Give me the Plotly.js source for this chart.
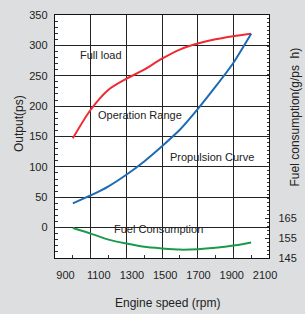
<!DOCTYPE html>
<html>
<head>
<meta charset="utf-8">
<script src="https://cdn.plot.ly/plotly-3.0.1.min.js"></script>
<style>html,body{margin:0;padding:0;background:#dddee0;}#chart{width:305px;height:314px;}</style>
</head>
<body>
<div id="chart"></div>
<script>
// Engine speed (rpm)
var rpm = [1000, 1100, 1200, 1300, 1400, 1500, 1600, 1700, 1800, 1900, 2000];
// Output (ps)
var fullLoad = [147, 194, 227, 245, 260, 278, 293, 303, 310, 315, 319];
var propulsion = [40, 53, 68, 87, 109, 134, 161, 195, 232, 271, 319];
// Fuel consumption (g/ps h)
var fuel = [160, 157.2, 154.2, 152.2, 150.6, 149.8, 149.2, 149.4, 150.1, 151.2, 152.8];
// Tick labels
var xTicks = [900, 1100, 1300, 1500, 1700, 1900, 2100];
var yTicks = [0, 50, 100, 150, 200, 250, 300, 350];
var fuelTicks = [145, 155, 165];

var F = 'Liberation Sans, Arial, sans-serif';
var traces = [
  {x: rpm, y: fullLoad, mode: 'lines', line: {color: '#ee2a35', width: 2, shape: 'spline', smoothing: 0.8}, showlegend: false, hoverinfo: 'skip'},
  {x: rpm, y: propulsion, mode: 'lines', line: {color: '#1d6bb4', width: 2, shape: 'spline', smoothing: 0.6}, showlegend: false, hoverinfo: 'skip'},
  {x: rpm, y: fuel, yaxis: 'y2', mode: 'lines', line: {color: '#1c9a4c', width: 2, shape: 'spline', smoothing: 0.6}, showlegend: false, hoverinfo: 'skip'},
  {x: [null], y: [null], xaxis: 'x2', yaxis: 'y', mode: 'markers', showlegend: false, hoverinfo: 'skip'}
];

function ann(text, x, y, xref, yref, size, angle) {
  return {text: text, x: x, y: y, xref: xref, yref: yref, xanchor: 'center', yanchor: 'middle',
          textangle: angle || 0, showarrow: false, font: {family: F, size: size, color: '#222'}};
}

var layout = {
  width: 305, height: 314,
  margin: {l: 55, r: 36, t: 15, b: 56},
  paper_bgcolor: '#dddee0',
  plot_bgcolor: '#ffffff',
  font: {family: F, size: 11, color: '#222'},
  showlegend: false,
  xaxis: {
    range: [900, 2100], tick0: 900, dtick: 200,
    showticklabels: false,
    showgrid: true, gridcolor: '#222', gridwidth: 1,
    zeroline: false,
    showline: true, linecolor: '#111', linewidth: 1.3, mirror: true,
    ticks: 'inside', ticklen: 4, tickcolor: '#333',
    minor: {dtick: 100, tick0: 900, ticks: 'inside', ticklen: 3, tickcolor: '#333', showgrid: false}
  },
  xaxis2: {
    overlaying: 'x', anchor: 'y', side: 'bottom',
    range: [837, 2124],
    tickmode: 'array', tickvals: xTicks,
    showgrid: false, zeroline: false, showline: false, ticks: '',
    ticklabelstandoff: 9,
    tickfont: {family: F, size: 11, color: '#222'}
  },
  yaxis: {
    range: [-50, 350],
    tickmode: 'array', tickvals: yTicks,
    showgrid: true, gridcolor: '#222', gridwidth: 1,
    zeroline: false,
    showline: true, linecolor: '#111', linewidth: 1.3,
    ticks: 'inside', ticklen: 4, tickcolor: '#333',
    ticklabelstandoff: 4,
    minor: {dtick: 10, tick0: 0, ticks: 'inside', ticklen: 3, tickcolor: '#333', showgrid: false},
    tickfont: {family: F, size: 11, color: '#222'}
  },
  yaxis2: {
    overlaying: 'y', side: 'right', anchor: 'x',
    range: [145, 266.5],
    tickmode: 'array', tickvals: fuelTicks,
    showgrid: false, zeroline: false,
    showline: true, linecolor: '#111', linewidth: 1.3,
    ticks: 'inside', ticklen: 4, tickcolor: '#333',
    ticklabelstandoff: 6,
    minor: {dtick: 2, tick0: 145, ticks: 'inside', ticklen: 2, tickcolor: '#333', showgrid: false},
    tickfont: {family: F, size: 11, color: '#222'}
  },
  annotations: [
    ann('Full load', 1160, 284, 'x', 'y', 11),
    ann('Operation Range', 1375, 186, 'x', 'y', 11),
    ann('Propulsion Curve', 1778, 117, 'x', 'y', 11),
    ann('Fuel Consumption', 1483, -2, 'x', 'y', 11),
    ann('Output(ps)', -0.171, 0.553, 'paper', 'paper', 12, -90),
    ann('Fuel consumption(g/ps\u00a0\u00a0h)', 1.121, 0.582, 'paper', 'paper', 12, -90),
    ann('Engine speed (rpm)', 0.526, -0.185, 'paper', 'paper', 12)
  ]
};

Plotly.newPlot('chart', traces, layout, {staticPlot: true, displayModeBar: false});
</script>
</body>
</html>
